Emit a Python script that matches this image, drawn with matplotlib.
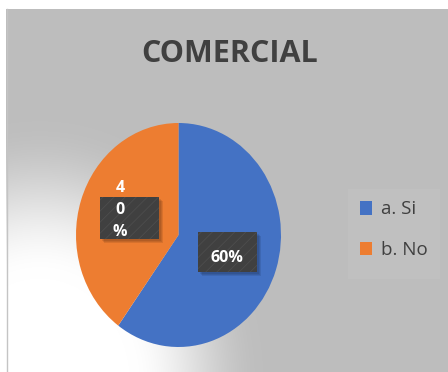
import numpy as np
import matplotlib
matplotlib.use('Agg')
import matplotlib.pyplot as plt
from matplotlib.patches import Rectangle

plt.rcParams['font.family'] = ['Open Sans', 'DejaVu Sans']
plt.rcParams['hatch.linewidth'] = 0.6

title = 'COMERCIAL'
categories = ['a. Si', 'b. No']
shares = [60, 40]
colors = ['#4472C4', '#ED7D31']

W, H = 448, 372
fig = plt.figure(figsize=(W / 100, H / 100), dpi=100)

# chart area background: grey with a soft white glow towards the lower left
bg = fig.add_axes([0, 0, 1, 1], zorder=0)
yy, xx = np.mgrid[0:H, 0:W] + 0.5
d = np.hypot(xx - 40, (yy - 385) / 1.18)
t = np.clip((d - 90) / (225 - 90), 0, 1)
t = t * t * (3 - 2 * t)
shade = 1 - t * (1 - 0.745)
shade[yy < 9] = 1.0
shade[xx < 6] = 1.0
img = np.dstack([shade, shade, shade])
bg.imshow(img, extent=(0, W, H, 0), interpolation='bilinear', aspect='auto')
bg.plot([6.5, 6.5], [9, H], color='#c4c4c4', lw=1.0)
bg.set_xlim(0, W)
bg.set_ylim(H, 0)
bg.axis('off')

# pie (slightly taller than wide, as in the exported sheet)
ax = fig.add_axes([76 / W, (H - 347) / H, (281 - 76) / W, (347 - 123) / H],
                  zorder=1)
wedges, _ = ax.pie(shares, colors=colors, startangle=90, counterclock=False,
                   radius=1, wedgeprops=dict(linewidth=0))
ax.set_xlim(-1, 1)
ax.set_ylim(-1, 1)
ax.set_aspect('auto')
ax.axis('off')

# overlay in pixel coordinates for title, data labels and legend
ov = fig.add_axes([0, 0, 1, 1], zorder=2)
ov.set_xlim(0, W)
ov.set_ylim(H, 0)
ov.axis('off')
ov.patch.set_alpha(0)

ov.text(229.5, 54, title, ha='center', va='center', fontsize=22,
        fontweight='bold', color='#404040')


def label_box(x, y, w, h):
    for k, a in enumerate([0.09, 0.09, 0.09]):
        off = 1.5 + k * 1.2
        ov.add_patch(Rectangle((x + off, y + off), w, h, facecolor='black',
                               alpha=a, linewidth=0))
    ov.add_patch(Rectangle((x, y), w, h, facecolor='#404040',
                           edgecolor='#4d4d4d', hatch='///', linewidth=0))


txt = dict(color='white', fontweight='bold', fontsize=11.5,
           ha='center', va='center')

# a. Si
label_box(198, 232, 59, 40)
ov.text(227, 257.5, f'{shares[0]}%', **txt)

# b. No -- label text wraps one character per line
label_box(100, 197, 59, 42)
ov.text(120, 210, '\n'.join(f'{shares[1]}%'), linespacing=1.5, **txt)

# legend
ov.add_patch(Rectangle((348, 189), 92, 90, facecolor='white', alpha=0.05,
                       linewidth=0))
leg = ov.legend(wedges, categories, loc='upper left',
                bbox_to_anchor=(352 / W, 1 - 193 / H),
                bbox_transform=fig.transFigure, frameon=False,
                fontsize=13.5, handlelength=0.64, handleheight=0.7,
                handletextpad=0.5, labelspacing=1.2, borderaxespad=0)
for tx in leg.get_texts():
    tx.set_color('#404040')

fig.savefig('out.png', dpi=100)
